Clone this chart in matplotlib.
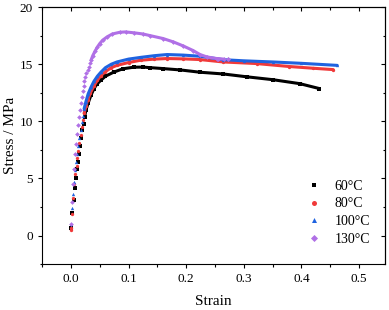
import numpy as np
import matplotlib
matplotlib.use('Agg')
import matplotlib.pyplot as plt
from matplotlib.ticker import MultipleLocator

# strain / stress; first part = sparse points, rest = dense points
x60 = [0.0, 0.002, 0.005, 0.007, 0.009, 0.011, 0.0125, 0.014, 0.016, 0.018, 0.020, 0.022, 0.024,
       0.026, 0.03, 0.035, 0.04, 0.045, 0.052, 0.06, 0.074, 0.09, 0.109, 0.125, 0.138, 0.16,
       0.19, 0.224, 0.264, 0.305, 0.35, 0.397, 0.431]
y60 = [0.7, 2.0, 3.15, 4.2, 5.05, 5.8, 6.45, 7.1, 7.8, 8.5, 9.2, 9.8, 10.4,
       10.96, 11.6, 12.3, 12.85, 13.25, 13.6, 13.95, 14.3, 14.6, 14.74, 14.75, 14.7, 14.62,
       14.5, 14.3, 14.15, 13.9, 13.65, 13.3, 12.87]
x80 = [0.0, 0.0, 0.002, 0.004, 0.006, 0.008, 0.010, 0.0115, 0.013, 0.015, 0.017, 0.019, 0.021, 0.023,
       0.026, 0.029, 0.034, 0.04, 0.046, 0.052, 0.06, 0.07, 0.08, 0.1, 0.121, 0.145, 0.167,
       0.195, 0.224, 0.264, 0.322, 0.379, 0.42, 0.455]
y80 = [0.5, 0.65, 1.9, 3.25, 4.5, 5.4, 6.1, 6.8, 7.4, 8.1, 8.8, 9.5, 10.1, 10.7,
       11.3, 11.84, 12.5, 13.1, 13.6, 14.0, 14.35, 14.7, 14.9, 15.15, 15.35, 15.45, 15.5,
       15.47, 15.41, 15.2, 15.06, 14.8, 14.65, 14.53]
x100 = [0.0, 0.002, 0.0035, 0.0055, 0.0075, 0.0095, 0.0115, 0.013, 0.015, 0.017, 0.019, 0.021, 0.023,
        0.026, 0.03, 0.035, 0.04, 0.046, 0.052, 0.06, 0.07, 0.08, 0.1, 0.121, 0.145, 0.167,
        0.195, 0.224, 0.264, 0.3, 0.35, 0.4, 0.462]
y100 = [1.0, 2.4, 3.65, 4.73, 5.7, 6.43, 7.17, 7.8, 8.5, 9.2, 9.9, 10.5, 11.1,
        11.7, 12.4, 13.0, 13.5, 13.95, 14.3, 14.7, 15.0, 15.2, 15.45, 15.6, 15.75, 15.85,
        15.8, 15.7, 15.4, 15.3, 15.2, 15.08, 14.9]
x130 = [0.0, 0.002, 0.0035, 0.0055, 0.0075, 0.0095, 0.0115, 0.013, 0.0145, 0.016, 0.0175, 0.019,
        0.0205, 0.022, 0.0235, 0.025, 0.027, 0.029, 0.031, 0.033, 0.035,
        0.038, 0.042, 0.046, 0.05, 0.055, 0.063, 0.072, 0.085, 0.095, 0.11, 0.125, 0.138,
        0.16, 0.178, 0.195, 0.212, 0.224, 0.236, 0.253, 0.265]
y130 = [1.0, 2.9, 4.5, 5.85, 7.1, 8.0, 8.9, 9.7, 10.4, 11.0, 11.6, 12.15,
        12.65, 13.1, 13.5, 13.85, 14.2, 14.5, 14.8, 15.1, 15.35,
        15.75, 16.15, 16.5, 16.8, 17.1, 17.4, 17.65, 17.8, 17.83, 17.75, 17.65, 17.5,
        17.25, 16.95, 16.6, 16.2, 15.85, 15.64, 15.5, 15.45]
x130_tail = [0.255, 0.273]
y130_tail = [15.5, 15.5]

series = [
  ('60°C', x60, y60, 13, 's', '#000000'),
  ('80°C', x80, y80, 14, 'o', '#f03a3a'),
  ('100°C', x100, y100, 13, '^', '#1f63e0'),
  ('130°C', x130, y130, 21, 'D', '#b070e6'),
]

plt.rcParams['font.family'] = ['Liberation Serif', 'DejaVu Serif']

fig = plt.figure(figsize=(3.89, 3.10), dpi=100)
ax = fig.add_axes([0.108, 0.148, 0.882, 0.829])

for name, x, y, k, m, c in series:
  x = np.asarray(x); y = np.asarray(y)
  ax.plot(x, y, ls='none', marker=m, ms=2.4, mew=0, color=c, label=name)
  ax.plot(x[k - 1:], y[k - 1:], '-', lw=2.2, color=c, solid_capstyle='round')
ax.plot(x130_tail, y130_tail, ls='none', marker='D', ms=2.6, mew=0, color='#b070e6')

ax.set_xlim(-0.05, 0.545)
ax.set_ylim(-2.5, 20)

def set_ticks(a, direction, **kw):
  a.tick_params(which='both', direction=direction, width=0.8, **kw)
  a.tick_params(which='major', length=3.2)
  a.tick_params(which='minor', length=1.8)

ax.xaxis.set_major_locator(MultipleLocator(0.1))
ax.xaxis.set_minor_locator(MultipleLocator(0.05))
ax.yaxis.set_major_locator(MultipleLocator(5))
ax.yaxis.set_minor_locator(MultipleLocator(2.5))
set_ticks(ax, 'out', labelsize=9.5, pad=3.5)
for s in ax.spines.values():
  s.set_linewidth(0.8)

# mirrored inward ticks on top and right
axt = ax.secondary_xaxis('top')
axt.xaxis.set_major_locator(MultipleLocator(0.1))
axt.xaxis.set_minor_locator(MultipleLocator(0.05))
set_ticks(axt, 'in', labeltop=False)
axr = ax.secondary_yaxis('right')
axr.yaxis.set_major_locator(MultipleLocator(5))
axr.yaxis.set_minor_locator(MultipleLocator(2.5))
set_ticks(axr, 'in', labelright=False)

ax.set_xlabel('Strain', fontsize=11, labelpad=7)
ax.set_ylabel('Stress / MPa', fontsize=11, labelpad=2)

ax.legend(loc='center', bbox_to_anchor=(0.862, 0.2), frameon=False, fontsize=10,
          markerscale=1.5, handlelength=1.2, handletextpad=0.9, labelspacing=0.33)

fig.savefig('out.png', dpi=100)
